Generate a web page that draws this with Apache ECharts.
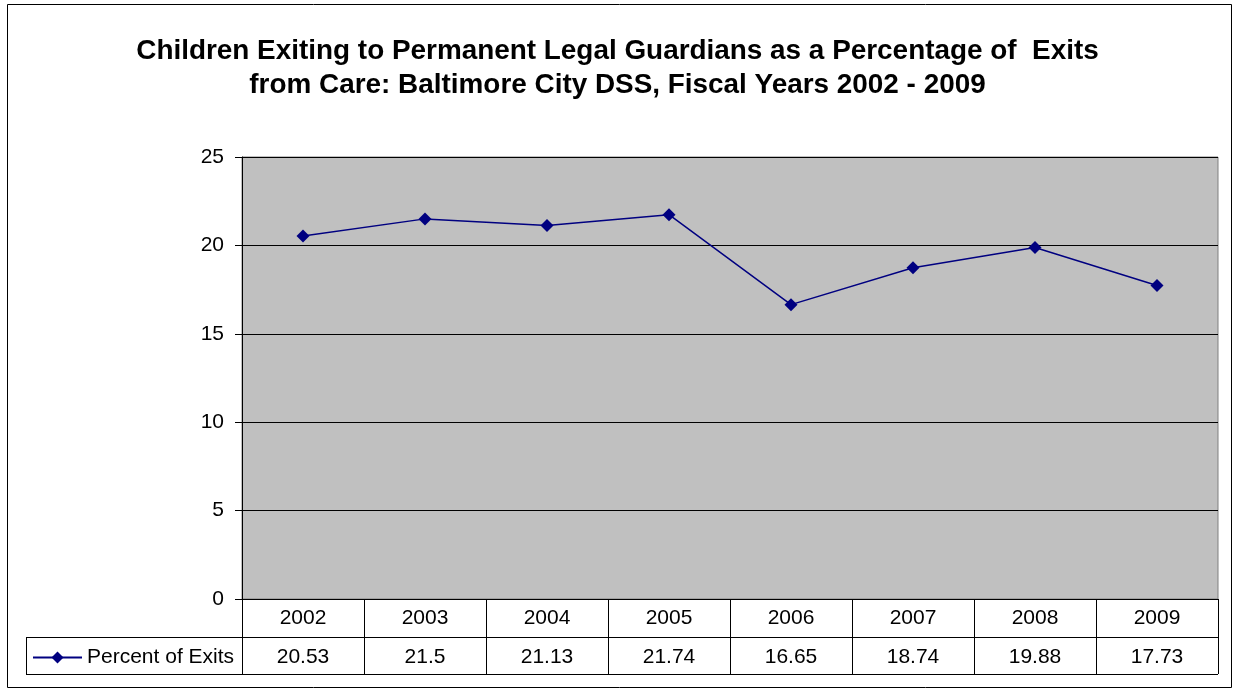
<!DOCTYPE html>
<html>
<head>
<meta charset="utf-8">
<script src="https://cdn.jsdelivr.net/npm/echarts@6/dist/echarts.min.js"></script>
<style>
  html, body { margin: 0; padding: 0; background: #fff; }
  #chart { width: 1235px; height: 691px; }
</style>
</head>
<body>
<div id="chart"></div>
<script>
// data
const years = ['2002', '2003', '2004', '2005', '2006', '2007', '2008', '2009'];
const percentOfExits = [20.53, 21.5, 21.13, 21.74, 16.65, 18.74, 19.88, 17.73];
const seriesName = 'Percent of Exits';
const yTicks = { min: 0, max: 25, interval: 5 };

// layout (plot area + data table)
const G = { left: 242, top: 157, width: 976, height: 442 };
const rowH = 38;
const tableLeft = 26;
const font = 'Arial, "Liberation Sans", sans-serif';

const chart = echarts.init(document.getElementById('chart'));
const bottom = G.top + G.height;
const right = G.left + G.width;

chart.setOption({
  animation: false,
  backgroundColor: '#fff',
  title: {
    text: 'Children Exiting to Permanent Legal Guardians as a Percentage of  Exits\nfrom Care: Baltimore City DSS, Fiscal Years 2002 - 2009',
    left: 'center',
    top: 29,
    padding: [5, 0, 5, 7],
    textStyle: { fontFamily: font, fontSize: 27.9, fontWeight: 'bold', color: '#000', lineHeight: 34 }
  },
  legend: {
    left: 32,
    top: bottom + rowH + 10,
    padding: 0,
    itemWidth: 49,
    itemHeight: 15,
    itemGap: 0,
    textStyle: { fontFamily: font, fontSize: 21, color: '#000' },
    data: [seriesName]
  },
  grid: {
    left: G.left, top: G.top, width: G.width, height: G.height,
    show: true, backgroundColor: '#C0C0C0', borderColor: '#808080', borderWidth: 1
  },
  xAxis: [
    {
      type: 'category',
      data: years,
      boundaryGap: true,
      position: 'bottom',
      axisLine: { lineStyle: { color: '#000', width: 1 } },
      axisTick: { show: true, length: rowH * 2 - 1, interval: 0, lineStyle: { color: '#000' } },
      axisLabel: { fontFamily: font, fontSize: 21, color: '#000', margin: 9, interval: 0 }
    },
    {
      type: 'category',
      data: percentOfExits.map(String),
      boundaryGap: true,
      position: 'bottom',
      offset: rowH,
      axisLine: { show: false },
      axisTick: { show: false },
      axisLabel: { fontFamily: font, fontSize: 21, color: '#000', margin: 10, interval: 0 }
    }
  ],
  yAxis: {
    type: 'value',
    min: yTicks.min, max: yTicks.max, interval: yTicks.interval,
    axisLine: { show: true, lineStyle: { color: '#000' } },
    axisTick: { show: true, length: 7, lineStyle: { color: '#000' } },
    axisLabel: { fontFamily: font, fontSize: 21, color: '#000', margin: 18 },
    splitLine: { show: true, lineStyle: { color: '#000', width: 1 } }
  },
  series: [{
    name: seriesName,
    type: 'line',
    data: percentOfExits,
    symbol: 'diamond',
    symbolSize: 13,
    itemStyle: { color: '#000080' },
    lineStyle: { color: '#000080', width: 1.5 }
  }],
  graphic: [
    // outer chart border
    { type: 'rect', shape: { x: 7.5, y: 4.5, width: 1224, height: 683 },
      style: { fill: null, stroke: '#000', lineWidth: 1 }, silent: true },
    // data table lines
    { type: 'line', shape: { x1: tableLeft, y1: bottom + rowH + 0.5, x2: right, y2: bottom + rowH + 0.5 },
      style: { stroke: '#000', lineWidth: 1 } },
    { type: 'line', shape: { x1: tableLeft, y1: bottom + rowH * 2 - 0.5, x2: right, y2: bottom + rowH * 2 - 0.5 },
      style: { stroke: '#000', lineWidth: 1 } },
    { type: 'line', shape: { x1: tableLeft + 0.5, y1: bottom + rowH, x2: tableLeft + 0.5, y2: bottom + rowH * 2 },
      style: { stroke: '#000', lineWidth: 1 } }
  ]
});
</script>
</body>
</html>
